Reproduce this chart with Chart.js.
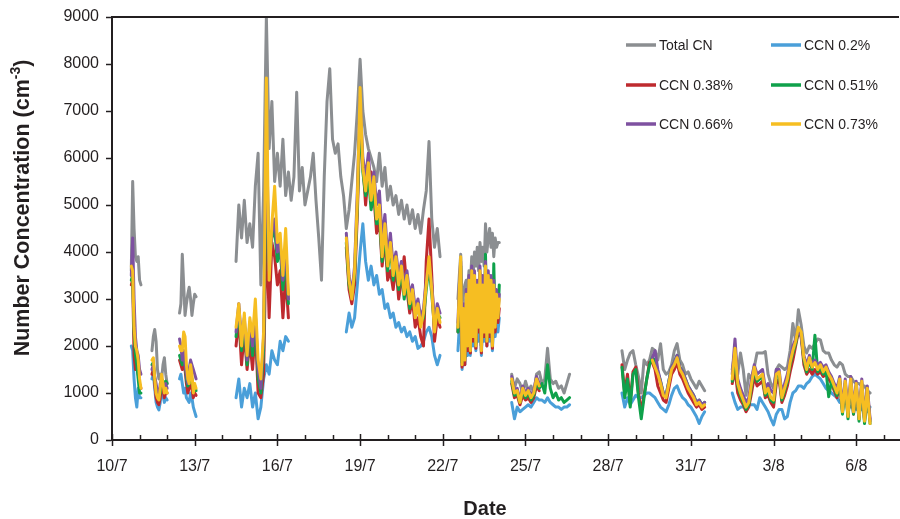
<!DOCTYPE html>
<html><head><meta charset="utf-8">
<script src="https://cdn.jsdelivr.net/npm/chart.js@4.4.1/dist/chart.umd.min.js"></script>
<style>html,body{margin:0;padding:0;background:#fff;}#wrap{width:900px;height:519px;position:relative;}</style>
</head><body><div id="wrap"><canvas id="c" width="900" height="519"></canvas></div>
<script>
// ---------- data (days since 10/7 00:00) ----------
const seriesNames = ['Total CN','CCN 0.2%','CCN 0.38%','CCN 0.51%','CCN 0.66%','CCN 0.73%'];
const seriesColors = ['#8B8E91','#4A9FD9','#BE2A2E','#0FA14B','#7E51A0','#F6BE22'];
const dateLabels = ['10/7','13/7','16/7','19/7','22/7','25/7','28/7','31/7','3/8','6/8'];
const dateTickDays = [0,3,6,9,12,15,18,21,24,27];
const yTicks = [0,1000,2000,3000,4000,5000,6000,7000,8000,9000];
// sampling segments: start day and step (days)
const segStart = [0.70,1.45,2.45,4.5,12.55,14.5,18.5,22.5];
const segStep  = [0.05,0.05,0.05,0.1,0.05,0.1,0.1,0.1];
const N = null;

const totalCN = [
 [3600,5500,4500,3900,3800,3900,3400,3300],
 [1900,2200,2350,2100,1500,1300,1400,1300,1600,1750,1400,1200],
 [2700,2900,3950,3300,2650,2900,3100,3250,3000,2650,2900,3100,3050],
 [3800,5000,4300,5100,4200,4600,4100,5400,6100,3300,5300,9000,6200,7200,5500,6100,5400,6400,5200,5700,
  5100,5600,7400,5300,5800,5000,5300,5600,6100,5100,4300,3400,5600,7200,7900,6400,6100,6300,5600,5200,
  4500,4900,5500,6100,7000,8100,7000,6500,6200,6000,5800,5500,6100,5400,5800,5100,5400,5000,5200,4800,
  5100,4700,5000,4600,4900,4500,4800,4400,4900,5300,6350,4700,4100,4500,3900],
 [3000,3500,3950,2900,3100,3300,3400,3200,3600,3300,3900,3500,4000,3700,4100,3600,4200,3800,4100,3700,4600,4000,4300,4500,4100,4400,3900,4300,4100,4200,4200],
 [1400,1100,1300,1200,1000,1250,1050,1150,1000,1400,1450,1200,1300,1950,1300,1200,1250,1100,1150,1000,1200,1400],
 [1900,1500,1700,1850,1900,1600,1350,1000,1700,1600,1700,1950,1900,1700,2050,1500,1400,1450,1600,1900,2050,1700,1600,1400,1450,1300,1200,1100,1250,1150,1050],
 [1500,1900,1400,1850,1500,950,1400,1300,1550,1850,1850,1850,1880,1400,1200,1100,1500,1600,1550,1500,
  1550,1900,2480,2100,2770,2450,2000,1850,2000,1950,2050,2150,2130,1900,1850,1850,1700,1600,1550,1650,
  1600,1400,1350,1350,1250,1200,1200,1150,1150,1050,1000]
];
const ccn020 = [
 [2000,1900,1300,900,700,1100,900,900],
 [1300,1400,1100,800,700,640,800,1100,950,800,900,850],
 [1300,1400,1200,1000,1100,900,850,800,1000,900,700,600,500],
 [900,1300,700,1100,900,1200,700,1000,450,700,1300,1600,1400,1900,1700,1600,2100,1900,2200,2100,
  N,N,N,N,N,N,N,N,N,N,N,N,N,N,N,N,N,N,N,N,
  2300,2700,2400,2600,3300,4000,4600,3800,3400,3700,3300,3500,3100,3200,2800,2900,2600,2700,2400,2500,
  2300,2400,2200,2300,2100,2200,1950,2000,2100,2300,2400,2200,1800,1600,1800],
 [1900,2400,2600,1500,2200,1600,2500,1800,2600,1800,2800,2000,2700,1900,2600,2100,2800,1800,2600,2100,2900,2000,2800,2100,2700,1900,2600,2200,2500,2300,2600],
 [800,450,700,600,650,700,750,700,800,900,850,850,800,900,800,750,700,700,650,700,700,750],
 [1000,700,900,750,850,950,900,900,950,1000,1000,950,900,800,700,650,600,750,950,1100,1150,1000,900,850,750,700,600,500,350,500,600],
 [1000,800,650,700,700,700,750,750,750,650,900,800,700,600,450,320,550,650,650,450,
  500,800,1000,1050,1150,1150,1100,1200,1250,1350,1400,1350,1300,1200,1100,1050,1000,950,900,800,
  900,800,750,700,700,650,700,650,600,600,700]
];
const ccn038 = [
 [3300,3400,1800,1500,1700,1400,1200,1100],
 [1400,1500,1200,900,800,750,900,1200,1100,900,1000,1000],
 [1700,1600,1500,1700,1500,1200,1000,1100,1300,1100,900,1000,950],
 [2000,2600,1600,2300,1500,2100,1500,2400,1000,900,1400,4600,2600,4200,3900,3300,3600,2600,3500,2600,
  N,N,N,N,N,N,N,N,N,N,N,N,N,N,N,N,N,N,N,N,
  4100,3200,2900,3300,4800,6800,5900,5000,5700,5700,5200,4400,4700,3700,4300,3400,3600,3200,3700,3000,
  3400,3900,3200,2700,3000,2400,2600,2200,2000,3800,4700,3500,2100,2600,2400],
 [2300,3000,3000,1550,2600,1600,2900,1900,3100,1850,3200,2100,3200,1950,3000,2300,3300,1850,3000,2200,3400,2000,3200,2200,3200,1950,3100,2300,2900,2500,2800],
 [1200,900,950,750,950,850,900,800,900,1150,1050,N,N,N,N,N,N,N,N,N,N,N],
 [1600,1000,1400,800,1450,1550,1000,600,950,1300,1650,1650,1500,1150,1000,850,800,1100,1400,1500,1650,1400,1300,1150,1000,900,800,700,750,650,700],
 [1200,1500,1000,850,750,600,700,1000,1350,1150,1200,1250,900,950,800,700,1200,1300,800,950,
  1150,1450,1700,2000,2300,2200,1600,1400,1500,1400,1500,1400,1450,1350,1400,1300,1200,1050,900,1200,
  600,1150,500,1200,550,1100,450,1150,400,1050,400]
];
const ccn051 = [
 [3400,3500,2300,1800,1600,1300,1000,1000],
 [1600,1650,1300,1100,950,900,1000,1300,1250,1150,1250,1200],
 [1800,1700,1600,1900,1700,1300,1150,1200,1400,1300,1100,1150,1050],
 [2200,2800,1900,2500,1600,2400,1800,2600,1300,1000,1900,6000,3800,4300,4500,3800,4100,3200,3900,2900,
  N,N,N,N,N,N,N,N,N,N,N,N,N,N,N,N,N,N,N,N,
  4200,3300,3050,3500,5000,7000,5700,5200,5600,4900,5300,4600,4800,3800,4400,3600,4100,3400,3800,3200,
  3600,3000,3400,2800,3100,2700,2800,2500,2600,3200,3700,3100,2400,2700,2600],
 [2300,3100,3700,1650,2750,1750,3000,2050,3300,1950,3500,2250,3450,2050,3350,2450,3550,2000,3300,2350,3950,2150,3450,2350,3400,2100,3750,2450,3150,2650,3300],
 [1250,950,1000,800,1050,900,1000,850,950,1250,1100,1200,1000,1600,1100,900,1000,850,900,800,850,900],
 [1550,900,1300,700,1400,1500,900,450,900,1300,1600,1750,1700,1450,1250,1000,950,1250,1550,1650,1800,1550,1450,1300,1150,1050,950,800,850,750,800],
 [1250,1800,1150,950,800,650,750,1150,1500,1250,1300,1350,950,1050,850,800,1350,1400,850,1050,
  1250,1600,1850,2050,2350,2250,1700,1450,1700,1500,2230,1450,1550,1400,1500,920,1250,1100,950,1250,
  550,1200,450,1250,550,1150,400,1200,350,1050,350]
];
const ccn066 = [
 [3500,4300,3000,2200,1900,1800,1500,1400],
 [1500,1600,1350,1200,1000,900,1200,1300,1200,1100,1200,1100],
 [2150,2000,1700,1900,1600,1400,1200,1500,1700,1600,1500,1400,1300],
 [2300,2900,2100,2600,1700,2500,2000,2700,1500,1100,2200,6700,3600,4400,4700,4000,4200,3400,4100,3000,
  N,N,N,N,N,N,N,N,N,N,N,N,N,N,N,N,N,N,N,N,
  4400,3500,3100,3700,5300,7300,6000,5600,6100,5300,5700,5000,5300,4300,4800,3900,4400,3700,4000,3500,
  3800,3300,3600,3100,3300,2800,3000,2600,2800,3400,3800,3300,2500,2900,2700],
 [2500,3300,3800,1700,2900,1800,3200,2100,3500,2000,3700,2300,3600,2100,3400,2500,3700,2000,3500,2400,3800,2200,3600,2400,3500,2100,3400,2500,3200,2700,3100],
 [1350,1050,1100,850,1150,1000,1100,950,1050,1350,1200,N,N,N,N,N,N,N,N,N,N,N],
 [N,N,N,N,N,N,N,N,N,N,N,1750,1900,1500,1250,1000,950,1250,1550,1650,1800,1550,1450,1300,1150,1050,950,800,850,750,800],
 [1400,2150,1300,1100,950,800,900,1300,1600,1400,1450,1500,1100,1200,1050,1000,1500,1500,1000,1200,
  1400,1700,2000,2150,2350,2200,1800,1600,1800,1600,1700,1600,1650,1550,1600,1450,1350,1200,1100,1350,
  700,1300,600,1350,650,1250,500,1300,450,1150,450]
];
const ccn073 = [
 [3700,3600,2400,2000,1900,1700,1300,1100],
 [1700,1750,1300,1000,900,850,1100,1400,1200,1000,1100,1000],
 [2000,1900,1900,2300,2200,1600,1300,1200,1600,1400,1000,1200,1100],
 [2400,2900,2000,2700,1800,2600,2200,3000,1700,1300,2300,7700,3400,4600,5400,4200,4400,3500,4500,3100,
  N,N,N,N,N,N,N,N,N,N,N,N,N,N,N,N,N,N,N,N,
  4300,3400,3000,3600,5100,7500,5800,5300,5900,5100,5600,4700,5000,3900,4600,3700,4200,3500,3900,3300,
  3700,3100,3500,2900,3200,2600,2900,2400,2700,3300,3900,3200,2300,2800,2500],
 [2400,3200,3900,1600,2800,1700,3100,2000,3400,1900,3600,2200,3500,2000,3300,2400,3600,1900,3300,2300,3700,2100,3500,2300,3400,2000,3300,2400,3100,2600,3000],
 [1300,1000,1050,800,1100,950,1050,900,1000,1300,1150,N,N,N,N,N,N,N,N,N,N,N],
 [N,N,N,N,N,N,N,N,N,N,N,1700,1550,1400,1200,950,900,1200,1500,1600,1750,1500,1400,1250,1100,1000,900,750,800,700,750],
 [1300,1950,1200,1000,850,700,800,1200,1550,1300,1350,1400,1000,1100,900,850,1400,1450,900,1100,
  1300,1650,1900,2100,2400,2300,1750,1500,1750,1550,1650,1500,1600,1450,1550,1400,1300,1150,1000,1300,
  600,1250,500,1300,600,1200,450,1250,400,1100,350]
];
const allSeries = [totalCN, ccn020, ccn038, ccn051, ccn066, ccn073];

// ---------- build points ----------
function buildPoints(segs){
  const pts = [];
  segs.forEach((seg, i) => {
    seg.forEach((v, j) => pts.push({x: +(segStart[i] + j*segStep[i]).toFixed(3), y: v}));
    pts.push({x: +(segStart[i] + seg.length*segStep[i]).toFixed(3), y: null});
  });
  return pts;
}

const AXIS = '#231F20';
const FONT = '"Liberation Sans", Arial, Helvetica, sans-serif';

const decorPlugin = {
  id: 'decor',
  afterDraw(chart){
    const {ctx, chartArea: ca, scales: {x}} = chart;
    ctx.save();
    ctx.strokeStyle = AXIS;
    // top frame line
    ctx.lineWidth = 2;
    ctx.beginPath(); ctx.moveTo(ca.left, ca.top); ctx.lineTo(ca.right, ca.top); ctx.stroke();
    // x ticks: daily minor (inside), major every 3 days (crossing)
    ctx.lineWidth = 1.5;
    for (let d = 0; d <= 28; d++){
      const px = Math.round(x.getPixelForValue(d)) + 0.5;
      const major = dateTickDays.includes(d);
      ctx.beginPath();
      ctx.moveTo(px, ca.bottom - (major ? 6 : 5));
      ctx.lineTo(px, ca.bottom + (major ? 6 : 0));
      ctx.stroke();
    }
    // legend (2 columns x 3 rows)
    const colX = [626, 771], rowY = [45, 85, 124];
    ctx.font = '14px ' + FONT;
    ctx.textBaseline = 'middle'; ctx.textAlign = 'left';
    seriesNames.forEach((name, i) => {
      const cx = colX[i % 2], cy = rowY[Math.floor(i / 2)];
      ctx.strokeStyle = seriesColors[i]; ctx.lineWidth = 3.5; ctx.lineCap = 'butt';
      ctx.beginPath(); ctx.moveTo(cx, cy); ctx.lineTo(cx + 30, cy); ctx.stroke();
      ctx.fillStyle = AXIS;
      ctx.fillText(name, cx + 33, cy + 1);
    });
    // x title
    ctx.fillStyle = AXIS;
    ctx.font = 'bold 20px ' + FONT;
    ctx.textAlign = 'center';
    ctx.fillText('Date', 485, 509);
    // y title with superscript
    ctx.translate(23, 208); ctx.rotate(-Math.PI / 2);
    const mainF = 'bold 21.5px ' + FONT, supF = 'bold 14px ' + FONT;
    const p1 = 'Number Concentration (cm', p2 = '-3', p3 = ')';
    ctx.font = mainF; const w1 = ctx.measureText(p1).width, w3 = ctx.measureText(p3).width;
    ctx.font = supF; const w2 = ctx.measureText(p2).width;
    let xx = -(w1 + w2 + w3) / 2;
    ctx.textAlign = 'left';
    ctx.font = mainF; ctx.fillText(p1, xx, 0); xx += w1;
    ctx.font = supF; ctx.fillText(p2, xx, -7); xx += w2;
    ctx.font = mainF; ctx.fillText(p3, xx, 0);
    ctx.restore();
  }
};

const order = [5, 4, 3, 2, 1, 0];
const datasets = allSeries.map((s, i) => ({
  label: seriesNames[i],
  data: buildPoints(s),
  borderColor: seriesColors[i],
  backgroundColor: seriesColors[i],
  borderWidth: 3,
  pointRadius: 0,
  pointHoverRadius: 0,
  fill: false,
  tension: 0,
  spanGaps: false,
  borderJoinStyle: 'round',
  borderCapStyle: 'round',
  order: order[i]
}));

new Chart(document.getElementById('c'), {
  type: 'line',
  data: { datasets },
  plugins: [decorPlugin],
  options: {
    responsive: false,
    devicePixelRatio: 1,
    animation: false,
    layout: { padding: { top: 17, right: 1, left: 0, bottom: 0 } },
    plugins: { legend: { display: false }, tooltip: { enabled: false } },
    scales: {
      x: {
        type: 'linear', min: 0, max: 28.55,
        afterFit: s => { s.height = 79; },
        afterBuildTicks: s => { s.ticks = dateTickDays.map(v => ({ value: v })); },
        grid: { display: false, drawTicks: false },
        border: { display: true, color: AXIS, width: 2 },
        ticks: {
          autoSkip: false, maxRotation: 0, padding: 17, color: AXIS,
          font: { family: FONT, size: 16 },
          callback: v => dateLabels[dateTickDays.indexOf(v)]
        }
      },
      y: {
        min: 0, max: 9000,
        afterFit: s => { s.width = 112; },
        afterBuildTicks: s => { s.ticks = yTicks.map(v => ({ value: v })); },
        grid: { display: true, drawOnChartArea: false, drawTicks: true, tickLength: 6, tickColor: AXIS, tickWidth: 1.5 },
        border: { display: true, color: AXIS, width: 2 },
        ticks: { padding: 7, color: AXIS, font: { family: FONT, size: 16 }, callback: v => String(v) }
      }
    }
  }
});
</script></body></html>
